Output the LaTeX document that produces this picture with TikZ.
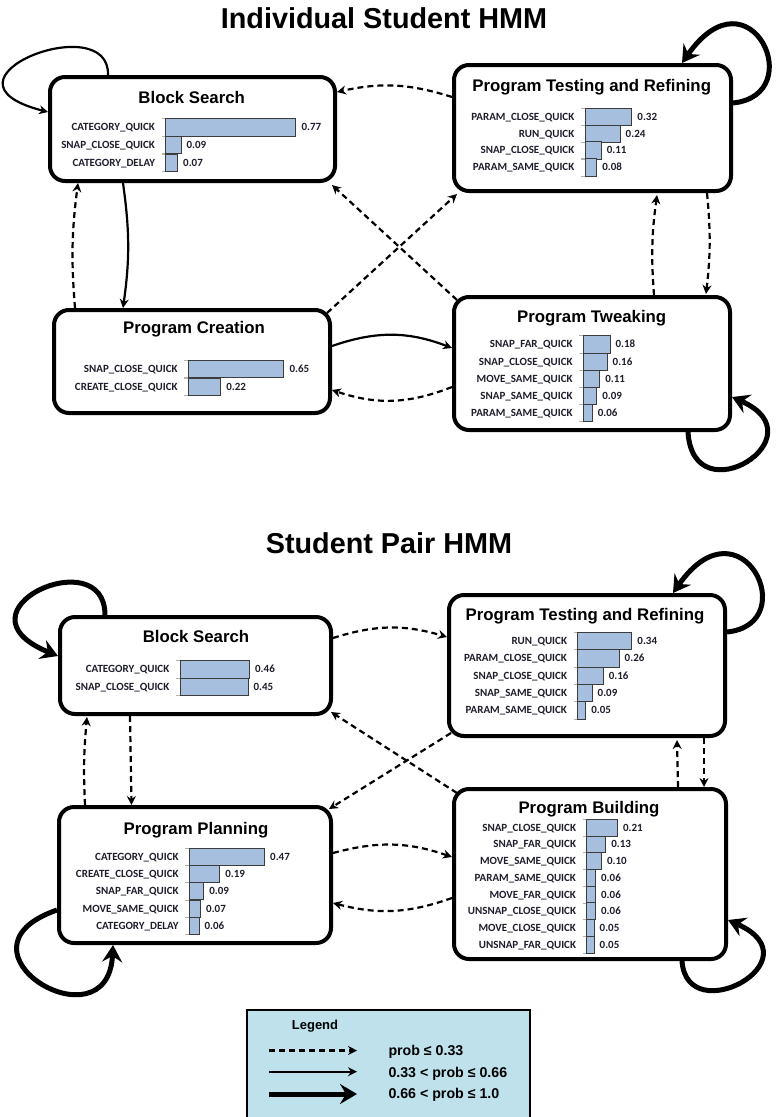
\documentclass[tikz,border=0pt]{standalone}
\usepackage{fontspec}
\setmainfont{Liberation Sans}
\newfontfamily\barfont{Carlito}
\usetikzlibrary{arrows.meta}
\definecolor{barblue}{RGB}{167,191,222}
\definecolor{baredge}{RGB}{60,60,60}
\definecolor{labink}{RGB}{30,30,45}
\definecolor{legendbg}{RGB}{190,225,235}
\tikzset{
  hmmbox/.style={draw, line width=4pt, rounded corners=15pt, fill=white, inner sep=0pt},
  boxtitle/.style={font=\bfseries\fontsize{16.8}{18}\selectfont, inner sep=0pt, anchor=base},
  maintitle/.style={font=\bfseries\fontsize{28.8}{32}\selectfont, inner sep=0pt, anchor=base},
  barlab/.style={font=\barfont\bfseries\fontsize{11}{12}\selectfont, text=labink, inner sep=0pt, anchor=base east},
  barval/.style={font=\barfont\bfseries\fontsize{11}{12}\selectfont, text=labink, inner sep=0pt, anchor=base west},
  barrect/.style={fill=barblue, draw=baredge, line width=0.8pt},
  baraxis/.style={draw=gray!60, line width=0.6pt},
  lowp/.style={line width=2.2pt, dash pattern=on 6pt off 4pt, -{Stealth[length=9pt,width=9pt,inset=3pt]}},
  midp/.style={line width=2.2pt, -{Stealth[length=9pt,width=9pt,inset=3pt]}},
  highp/.style={line width=5pt, -{Stealth[length=17pt,width=20pt,inset=6pt]}},
  legtext/.style={font=\bfseries\fontsize{14.2}{16}\selectfont, inner sep=0pt, anchor=base west},
  legtitle/.style={font=\bfseries\fontsize{13}{15}\selectfont, inner sep=0pt, anchor=base},
}
% #1 name, #2 axis x, #3 row y (page), #4 scale, #5 label, #6 value
\newcommand{\chartrow}[6]{%
  \draw[baraxis] (#2,-#3+\bh) -- (#2,-#3-\bh);
  \draw[baraxis] (#2-4,-#3+\bh) -- (#2,-#3+\bh);
  \draw[baraxis] (#2-4,-#3-\bh) -- (#2,-#3-\bh);
  \path[barrect] (#2,-#3+\bh) rectangle (#2+#4*#6,-#3-\bh);
  \node[barlab] (#1l) at (#2-10.5,-#3-3.5) {#5};
  \node[barval] (#1v) at (#2+#4*#6+5.5,-#3-3.5) {#6};
}
\def\bh{8.6}
\begin{document}
\begin{tikzpicture}[x=1pt,y=1pt]
\useasboundingbox (0,0) rectangle (776,-1117);

% ---------- titles ----------
\node[maintitle] (title1) at (384,-28.3) {Individual Student HMM};
\node[maintitle] (title2) at (389,-553.3) {Student Pair HMM};

% ---------- boxes (top) ----------
\node[hmmbox, minimum width=285pt, minimum height=104pt] (b1) at (192.5,-129) {};
\node[hmmbox, minimum width=277pt, minimum height=126pt] (b2) at (592.5,-128) {};
\node[hmmbox, minimum width=276pt, minimum height=103pt] (b3) at (192,-361.5) {};
\node[hmmbox, minimum width=276pt, minimum height=133pt] (b4) at (592,-363.5) {};

% ---------- boxes (bottom) ----------
\node[hmmbox, minimum width=271pt, minimum height=97pt] (b5) at (195.5,-665.5) {};
\node[hmmbox, minimum width=276pt, minimum height=141pt] (b6) at (587,-665.5) {};
\node[hmmbox, minimum width=272pt, minimum height=136pt] (b7) at (195,-875) {};
\node[hmmbox, minimum width=272pt, minimum height=170pt] (b8) at (590,-874) {};

% ---------- box titles ----------
\node[boxtitle] (b1t) at (191.7,-103) {Block Search};
\node[boxtitle] (b2t) at (591.7,-91) {Program Testing and Refining};
\node[boxtitle] (b3t) at (194,-333) {Program Creation};
\node[boxtitle] (b4t) at (591.7,-322.7) {Program Tweaking};
\node[boxtitle] (b5t) at (196,-642) {Block Search};
\node[boxtitle] (b6t) at (585,-620) {Program Testing and Refining};
\node[boxtitle] (b7t) at (196,-834) {Program Planning};
\node[boxtitle] (b8t) at (589,-813) {Program Building};

% ---------- bar charts ----------
\chartrow{b1r1}{165.7}{127.3}{169}{CATEGORY\_QUICK}{0.77}
\chartrow{b1r2}{165.7}{145}{169}{SNAP\_CLOSE\_QUICK}{0.09}
\chartrow{b1r3}{165.7}{162.7}{169}{CATEGORY\_DELAY}{0.07}

\chartrow{b2r1}{585}{116.7}{146}{PARAM\_CLOSE\_QUICK}{0.32}
\chartrow{b2r2}{585}{133.5}{146}{RUN\_QUICK}{0.24}
\chartrow{b2r3}{585}{150.4}{146}{SNAP\_CLOSE\_QUICK}{0.11}
\chartrow{b2r4}{585}{167.3}{146}{PARAM\_SAME\_QUICK}{0.08}

\chartrow{b3r1}{188.3}{369}{147}{SNAP\_CLOSE\_QUICK}{0.65}
\chartrow{b3r2}{188.3}{387}{147}{CREATE\_CLOSE\_QUICK}{0.22}

\chartrow{b4r1}{583.3}{344.3}{148}{SNAP\_FAR\_QUICK}{0.18}
\chartrow{b4r2}{583.3}{361.5}{148}{SNAP\_CLOSE\_QUICK}{0.16}
\chartrow{b4r3}{583.3}{378.7}{148}{MOVE\_SAME\_QUICK}{0.11}
\chartrow{b4r4}{583.3}{395.7}{148}{SNAP\_SAME\_QUICK}{0.09}
\chartrow{b4r5}{583.3}{412.5}{148}{PARAM\_SAME\_QUICK}{0.06}

\chartrow{b5r1}{180}{669.3}{151}{CATEGORY\_QUICK}{0.46}
\chartrow{b5r2}{180}{686.7}{151}{SNAP\_CLOSE\_QUICK}{0.45}

\chartrow{b6r1}{577.7}{641}{159}{RUN\_QUICK}{0.34}
\chartrow{b6r2}{577.7}{658.3}{159}{PARAM\_CLOSE\_QUICK}{0.26}
\chartrow{b6r3}{577.7}{675.7}{159}{SNAP\_CLOSE\_QUICK}{0.16}
\chartrow{b6r4}{577.7}{693}{159}{SNAP\_SAME\_QUICK}{0.09}
\chartrow{b6r5}{577.7}{710.3}{159}{PARAM\_SAME\_QUICK}{0.05}

\chartrow{b7r1}{189.3}{856.7}{160}{CATEGORY\_QUICK}{0.47}
\chartrow{b7r2}{189.3}{874}{160}{CREATE\_CLOSE\_QUICK}{0.19}
\chartrow{b7r3}{189.3}{891.2}{160}{SNAP\_FAR\_QUICK}{0.09}
\chartrow{b7r4}{189.3}{908.5}{160}{MOVE\_SAME\_QUICK}{0.07}
\chartrow{b7r5}{189.3}{925.8}{160}{CATEGORY\_DELAY}{0.06}

\def\bh{8.35}
\chartrow{b8r1}{586.7}{827.7}{146}{SNAP\_CLOSE\_QUICK}{0.21}
\chartrow{b8r2}{586.7}{844.4}{146}{SNAP\_FAR\_QUICK}{0.13}
\chartrow{b8r3}{586.7}{861.1}{146}{MOVE\_SAME\_QUICK}{0.10}
\chartrow{b8r4}{586.7}{877.8}{146}{PARAM\_SAME\_QUICK}{0.06}
\chartrow{b8r5}{586.7}{894.5}{146}{MOVE\_FAR\_QUICK}{0.06}
\chartrow{b8r6}{586.7}{911.2}{146}{UNSNAP\_CLOSE\_QUICK}{0.06}
\chartrow{b8r7}{586.7}{927.9}{146}{MOVE\_CLOSE\_QUICK}{0.05}
\chartrow{b8r8}{586.7}{944.6}{146}{UNSNAP\_FAR\_QUICK}{0.05}

% ---------- connectors (top) ----------
\draw[lowp] ([yshift=31pt]b2.west) to[bend right=15] ([yshift=37pt]b1.east);
\draw[midp] ([xshift=-69.5pt]b1.south) to[bend left=8] ([xshift=-69pt]b3.north);
\draw[lowp] ([xshift=-117pt]b3.north) to[bend left=6] ([xshift=-114.5pt]b1.south);
\draw[lowp] ([xshift=-5pt,yshift=-5pt]b3.north east) -- ([xshift=5pt,yshift=-1pt]b2.south west);
\draw[lowp] ([xshift=5pt,yshift=-5pt]b4.north west) -- ([xshift=-5pt,yshift=-2pt]b1.south east);
\draw[midp] ([yshift=15.5pt]b3.east) to[bend left=20] ([yshift=15.5pt]b4.west);
\draw[lowp] ([yshift=-23.5pt]b4.west) to[bend left=20] ([yshift=-28.5pt]b3.east);
\draw[lowp] ([xshift=62pt]b4.north) to[bend left=6] ([xshift=64.5pt,yshift=-2pt]b2.south);
\draw[lowp] ([xshift=114.5pt]b2.south) to[bend left=6] ([xshift=114pt,yshift=1pt]b4.north);

% self loops (top)
\draw[midp] ([xshift=60pt]b1.north west) .. controls +(2,68) and +(-125,32) .. ([yshift=-37pt]b1.north west);
\draw[highp] ([yshift=25pt]b2.east) .. controls +(77,8) and +(68,97) .. ([xshift=89.5pt]b2.north);
\draw[highp] ([xshift=96pt]b4.south) .. controls +(5,-85) and +(90,-40) .. ([yshift=-33.5pt]b4.east);

% ---------- connectors (bottom) ----------
\draw[lowp] ([yshift=27.5pt]b5.east) to[bend left=17] ([yshift=28.5pt]b6.west);
\draw[lowp] ([xshift=-65.5pt]b5.south) -- ([xshift=-63.5pt]b7.north);
\draw[lowp] ([xshift=-110pt]b7.north) to[bend left=4] ([xshift=-108.5pt,yshift=-1pt]b5.south);
\draw[lowp] ([xshift=4pt,yshift=5pt]b6.south west) -- ([xshift=-4pt,yshift=-4pt]b7.north east);
\draw[lowp] ([xshift=5pt,yshift=-6pt]b8.north west) -- ([xshift=-2pt,yshift=4pt]b5.south east);
\draw[lowp] ([yshift=22pt]b7.east) to[bend left=17] ([yshift=17pt]b8.west);
\draw[lowp] ([yshift=-24pt]b8.west) to[bend left=17] ([yshift=-28pt]b7.east);
\draw[lowp] ([xshift=88pt]b8.north) -- ([xshift=90pt,yshift=-2pt]b6.south);
\draw[lowp] ([xshift=117pt]b6.south) -- ([xshift=114pt]b8.north);

% self loops (bottom)
\draw[highp] ([xshift=47pt]b5.north west) .. controls +(0,75) and +(-110,45) .. ([yshift=-41pt]b5.north west);
\draw[highp] ([yshift=33.5pt]b6.east) .. controls +(77,8) and +(68,97) .. ([xshift=86pt]b6.north);
\draw[highp] ([yshift=-35pt]b7.west) .. controls +(-115,-40) and +(-5,-105) .. ([xshift=-82pt]b7.south);
\draw[highp] ([xshift=92pt]b8.south) .. controls +(5,-70) and +(90,-40) .. ([yshift=-46pt]b8.east);

% ---------- legend ----------
\node[draw, fill=legendbg, line width=1.5pt, minimum width=283pt, minimum height=130pt, anchor=north west, inner sep=0pt] (leg) at (246,-1009) {};
\node[legtitle] (legt) at (315,-1029.6) {Legend};
\coordinate (l1s) at (269,-1050.5);
\coordinate (l1e) at (357,-1050.5);
\coordinate (l2s) at (269,-1071.7);
\coordinate (l2e) at (357,-1071.7);
\coordinate (l3s) at (269,-1094);
\coordinate (l3e) at (357,-1094);
\draw[lowp] (l1s) -- (l1e);
\draw[midp] (l2s) -- (l2e);
\draw[highp] (l3s) -- (l3e);
\node[legtext] (lt1) at (388.3,-1055.5) {prob ≤ 0.33};
\node[legtext] (lt2) at (388.3,-1077.5) {0.33 < prob ≤ 0.66};
\node[legtext] (lt3) at (388.3,-1098.8) {0.66 < prob ≤ 1.0};
\end{tikzpicture}
\end{document}
